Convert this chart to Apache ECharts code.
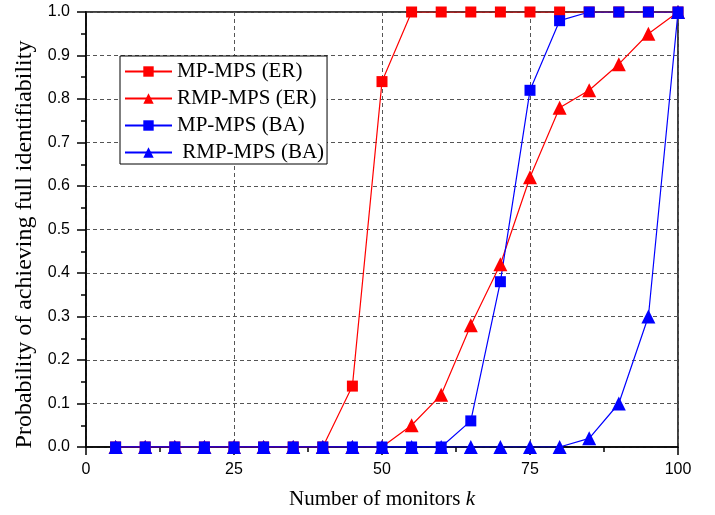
<!DOCTYPE html>
<html style="height: 100%">
<head>
    <meta charset="utf-8">
    <script src="https://cdn.jsdelivr.net/npm/echarts@6/dist/echarts.min.js"></script>
</head>
<body style="height: 100%; margin: 0; background: #fff">
<div id="container" style="width: 715px; height: 515px"></div>
<script type="text/javascript">
    // number of monitors k
    var monitors = [5, 10, 15, 20, 25, 30, 35, 40, 45, 50, 55, 60, 65, 70, 75, 80, 85, 90, 95, 100];
    var mpEr  = [0, 0, 0, 0, 0, 0, 0, 0, 0.14, 0.84, 1, 1, 1, 1, 1, 1, 1, 1, 1, 1];
    var rmpEr = [0, 0, 0, 0, 0, 0, 0, 0, 0, 0, 0.05, 0.12, 0.28, 0.42, 0.62, 0.78, 0.82, 0.88, 0.95, 1];
    var mpBa  = [0, 0, 0, 0, 0, 0, 0, 0, 0, 0, 0, 0, 0.06, 0.38, 0.82, 0.98, 1, 1, 1, 1];
    var rmpBa = [0, 0, 0, 0, 0, 0, 0, 0, 0, 0, 0, 0, 0, 0, 0, 0, 0.02, 0.10, 0.30, 1];
    var names = ['MP-MPS (ER)', 'RMP-MPS (ER)', 'MP-MPS (BA)', ' RMP-MPS (BA)'];

    function pairs(ys) {
        return monitors.map(function (x, i) { return [x, ys[i]]; });
    }

    function mkSeries(name, ys, color, symbol, size) {
        return {
            name: name,
            type: 'line',
            data: pairs(ys),
            symbol: symbol,
            symbolSize: size,
            itemStyle: {color: color},
            lineStyle: {color: color, width: 1.2},
            animation: false
        };
    }

    var chart = echarts.init(document.getElementById('container'));
    var serif = '"Liberation Serif", "Times New Roman", serif';
    var sans = '"Liberation Sans", Arial, sans-serif';
    var dashed = {show: true, lineStyle: {color: '#555', type: [4, 3], width: 1}};
    var tickStyle = {color: '#000', width: 1.5};

    var option = {
        backgroundColor: '#fff',
        grid: {left: 86, right: 37, top: 12, bottom: 68, show: true, borderColor: '#000', borderWidth: 1.5},
        legend: {
            orient: 'vertical',
            left: 120,
            top: 56,
            data: names,
            itemWidth: 47,
            itemHeight: 13,
            itemGap: 6,
            padding: [5, 3, 1, 4],
            borderColor: '#000',
            borderWidth: 1,
            backgroundColor: '#fff',
            textStyle: {fontFamily: serif, fontSize: 21, lineHeight: 21, color: '#000'}
        },
        xAxis: {
            type: 'value',
            min: 0,
            max: 100,
            interval: 25,
            name: '{n|Number of monitors }{k|k}',
            nameLocation: 'middle',
            nameGap: 42,
            nameTextStyle: {
                rich: {
                    n: {fontFamily: serif, fontSize: 21, color: '#000'},
                    k: {fontFamily: serif, fontSize: 21, color: '#000', fontStyle: 'italic'}
                }
            },
            axisLine: {lineStyle: {color: '#000', width: 1.5}},
            axisTick: {length: 8, lineStyle: tickStyle},
            minorTick: {show: true, splitNumber: 2, length: 5, lineStyle: tickStyle},
            axisLabel: {fontFamily: sans, fontSize: 16, color: '#000', margin: 15},
            splitLine: dashed
        },
        yAxis: {
            type: 'value',
            min: 0,
            max: 1,
            interval: 0.1,
            name: 'Probability of achieving full identifiability',
            nameLocation: 'middle',
            nameGap: 49,
            nameTextStyle: {fontFamily: serif, fontSize: 24, color: '#000', padding: [0, 30, 0, 0]},
            axisLine: {lineStyle: {color: '#000', width: 1.5}},
            axisTick: {length: 9, lineStyle: tickStyle},
            minorTick: {show: true, splitNumber: 2, length: 5, lineStyle: tickStyle},
            axisLabel: {
                fontFamily: sans, fontSize: 16, color: '#000', margin: 16,
                formatter: function (v) { return v.toFixed(1); }
            },
            splitLine: dashed
        },
        series: [
            mkSeries(names[0], mpEr, '#ff0000', 'rect', 11),
            mkSeries(names[1], rmpEr, '#ff0000', 'triangle', 14),
            mkSeries(names[2], mpBa, '#0000ff', 'rect', 11),
            mkSeries(names[3], rmpBa, '#0000ff', 'triangle', 14)
        ]
    };
    chart.setOption(option);
</script>
</body>
</html>
